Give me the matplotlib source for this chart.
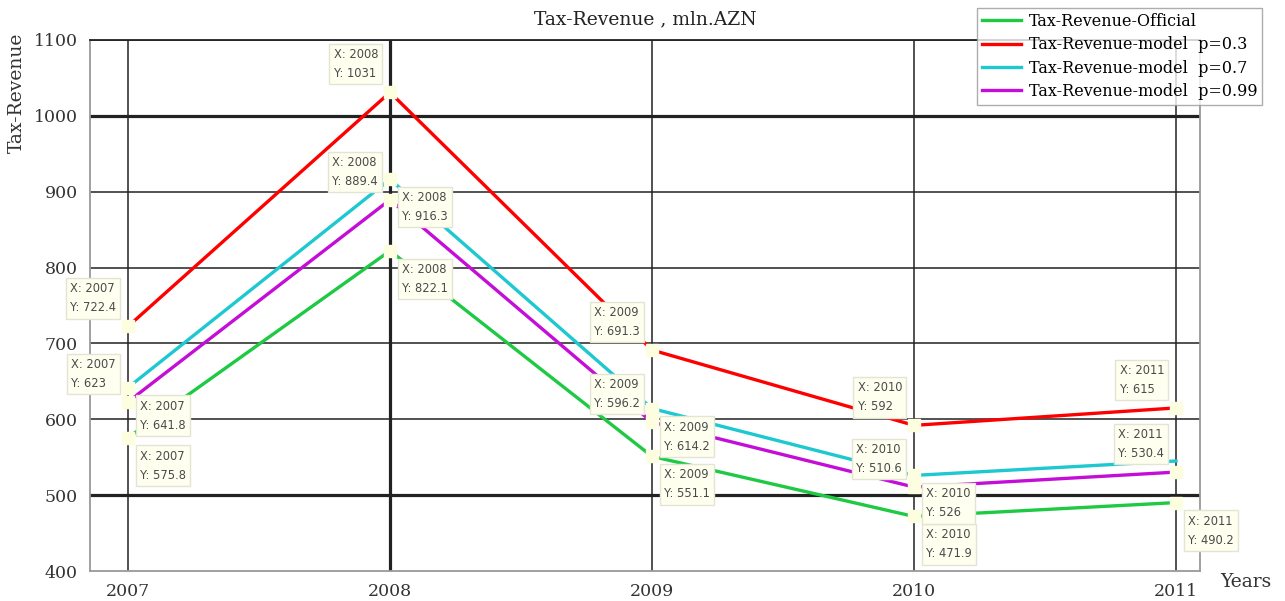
import matplotlib.pyplot as plt

years = [2007, 2008, 2009, 2010, 2011]
official = [575.8, 822.1, 551.1, 471.9, 490.2]
model_03 = [722.4, 1031, 691.3, 592, 615]
model_07 = [641.8, 916.3, 614.2, 526, 545]
model_099 = [623, 889.4, 596.2, 510.6, 530.4]

labels = ["Tax-Revenue-Official", "Tax-Revenue-model  p=0.3",
          "Tax-Revenue-model  p=0.7", "Tax-Revenue-model  p=0.99"]
colors = ["#1ec943", "#ff0000", "#1dc8d0", "#c40ed8"]
series = [official, model_03, model_07, model_099]

# data tip placement per point: 'ul' = upper-left, 'lr' = lower-right, None = no tip
tips = [
    ["lr", "lr", "lr", "lr", "lr"],
    ["ul", "ul", "ul", "ul", "ul"],
    ["lr", "lr", "lr", "lr", None],
    ["ul", "ul", "ul", "ul", "ul"],
]

SERIF = "DejaVu Serif"
W, H = 1285, 601
fig = plt.figure(figsize=(W / 100, H / 100), dpi=100)
ax = fig.add_axes([90 / W, (H - 571) / H, 1110 / W, 531 / H])

ax.set_xlim(2007 - 38 / 262, 2011 + 24 / 262)
ax.set_ylim(400, 1100)
ax.set_xticks(years)
ax.set_yticks(range(400, 1101, 100))

# grid, with the heavier lines as in the original
for y in range(500, 1101, 100):
    lw = 2.3 if y in (500, 1000) else 1.1
    ax.axhline(y, color="#222222", lw=lw, zorder=1)
for x in years:
    lw = 2.3 if x == 2008 else 1.1
    ax.axvline(x, color="#222222", lw=lw, zorder=1)

for s in ax.spines.values():
    s.set_color("#999999")
    s.set_linewidth(1.3)
ax.spines["top"].set_color("#222222")

ax.tick_params(length=0, pad=9)
for t in ax.get_xticklabels() + ax.get_yticklabels():
    t.set_family(SERIF)
    t.set_fontsize(12.5)
    t.set_color("#333333")

handles = []
for vals, c, lab in zip(series, colors, labels):
    h, = ax.plot(years, vals, color=c, lw=2.4, label=lab, zorder=3)
    handles.append(h)

for vals, tp in zip(series, tips):
    for x, y, t in zip(years, vals, tp):
        if t is None:
            continue
        ax.plot(x, y, marker="s", ms=9, mfc="#fdfde0", mec="#fdfde0",
                zorder=5, clip_on=False)
        if t == "ul":
            off, ha, va = (-12, 12), "right", "bottom"
        else:
            off, ha, va = (12, -12), "left", "top"
        ax.annotate(f"X: {x}\nY: {y:g}", (x, y), xytext=off,
                    textcoords="offset pixels", ha=ha, va=va,
                    multialignment="left",
                    fontsize=8.3, family="DejaVu Sans", color="#4a4a4a",
                    linespacing=1.6, zorder=6, annotation_clip=False,
                    bbox=dict(boxstyle="square,pad=0.36", fc="#fffff0",
                              ec="#e4e4d4", lw=1))

ax.set_title("Tax-Revenue , mln.AZN", family=SERIF,
             fontsize=13.5, color="#222222", pad=11)
ax.set_ylabel("Tax-Revenue", family=SERIF, fontsize=13.5,
              color="#333333")
ax.yaxis.set_label_coords(-0.058, 0.9)
ax.text(1.018, -0.02, "Years", transform=ax.transAxes,
        family=SERIF, fontsize=13.5, color="#333333",
        ha="left", va="center")

fig.legend(handles=handles, loc="upper right",
           bbox_to_anchor=(1262 / W, 1 - 8 / H),
           prop={"family": SERIF, "size": 11.5},
           frameon=True, fancybox=False, edgecolor="#999999",
           borderpad=0.3, labelspacing=0.4, handlelength=2.4,
           handletextpad=0.5, borderaxespad=0)

fig.savefig("out.png", dpi=100)
